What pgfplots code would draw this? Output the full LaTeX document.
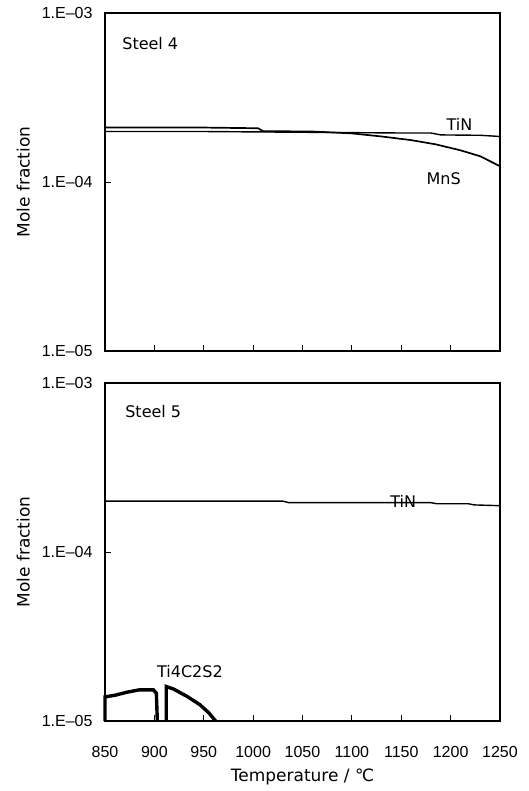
\documentclass[border=0pt]{standalone}
\usepackage{fontspec}
\setmainfont{DejaVu Sans}
\newfontfamily\tickfont{Liberation Sans}
\usepackage{pgfplots}
\pgfplotsset{compat=1.18}

\pgfplotsset{
  steelpanel/.style={
    scale only axis,
    width=395pt, height=338pt,
    xmin=850, xmax=1250,
    ymin=1e-5, ymax=1e-3,
    xtick={850,900,...,1250},
    ytick={1e-5,1e-4,1e-3},
    yticklabels={1.E–05,1.E–04,1.E–03},
    yminorticks=false,
    xtick pos=bottom, ytick pos=left,
    tick align=inside,
    major tick length=6pt,
    tick style={black, line width=0.8pt},
    axis line style={line width=1.8pt},
    ticklabel style={font=\tickfont\fontsize{16}{18}\selectfont},
    yticklabel style={xshift=-9pt},
    xticklabel style={yshift=-22pt},
    label style={font=\fontsize{17}{19}\selectfont},
    ylabel={Mole fraction},
    ylabel style={yshift=5pt},
    clip=false,
  }
}

\begin{document}
\begin{tikzpicture}

% Steel 4: TiN and MnS
\begin{axis}[ymode=log, steelpanel, at={(0,0)}, anchor=north west,
  xticklabels={}]
  \addplot[black, line width=1.4pt] coordinates {
    (850,1.99e-4) (950,1.99e-4) (1000,1.98e-4) (1050,1.97e-4)
    (1100,1.96e-4) (1150,1.95e-4) (1180,1.95e-4) (1190,1.90e-4)
    (1230,1.89e-4) (1250,1.86e-4)};
  \addplot[black, line width=1.7pt] coordinates {
    (850,2.10e-4) (950,2.10e-4) (1005,2.08e-4) (1010,2.00e-4)
    (1060,1.99e-4) (1100,1.94e-4) (1130,1.86e-4) (1160,1.77e-4)
    (1185,1.67e-4) (1210,1.54e-4) (1230,1.42e-4) (1250,1.24e-4)};
  \node[anchor=west, font=\fontsize{16}{18}\selectfont] at (axis cs:864,6.6e-4) {Steel 4};
  \node[font=\fontsize{16}{18}\selectfont] at (axis cs:1209,2.18e-4) {TiN};
  \node[font=\fontsize{16}{18}\selectfont] at (axis cs:1193,1.04e-4) {MnS};
\end{axis}

% Steel 5: TiN and Ti4C2S2
\begin{axis}[ymode=log, steelpanel, at={(0,-370pt)}, anchor=north west,
  /pgf/number format/assume math mode=true,
  /pgf/number format/1000 sep={},
  xlabel={Temperature / ℃}, xlabel style={yshift=-4pt}]
  \addplot[black, line width=1.4pt] coordinates {
    (850,2.00e-4) (1030,2.00e-4) (1036,1.96e-4) (1180,1.96e-4)
    (1186,1.93e-4) (1218,1.93e-4) (1224,1.90e-4) (1250,1.88e-4)};
  \addplot[black, line width=3.4pt] coordinates {
    (850,1.0e-5) (850,1.39e-5) (860,1.42e-5) (872,1.48e-5)
    (885,1.53e-5) (899,1.53e-5) (902,1.46e-5) (903,1.0e-5)};
  \addplot[black, line width=3.4pt] coordinates {
    (912,1.0e-5) (912,1.60e-5) (919,1.55e-5) (933,1.40e-5)
    (946,1.25e-5) (955,1.12e-5) (962,1.0e-5)};
  \node[anchor=west, font=\fontsize{16}{18}\selectfont] at (axis cs:867,6.8e-4) {Steel 5};
  \node[font=\fontsize{16}{18}\selectfont] at (axis cs:1152,2.00e-4) {TiN};
  \node[font=\fontsize{16}{18}\selectfont] at (axis cs:936,1.95e-5) {Ti4C2S2};
\end{axis}

\pgfresetboundingbox
\path[use as bounding box] (-105pt,13pt) rectangle (423pt,-778pt);
\end{tikzpicture}
\end{document}
